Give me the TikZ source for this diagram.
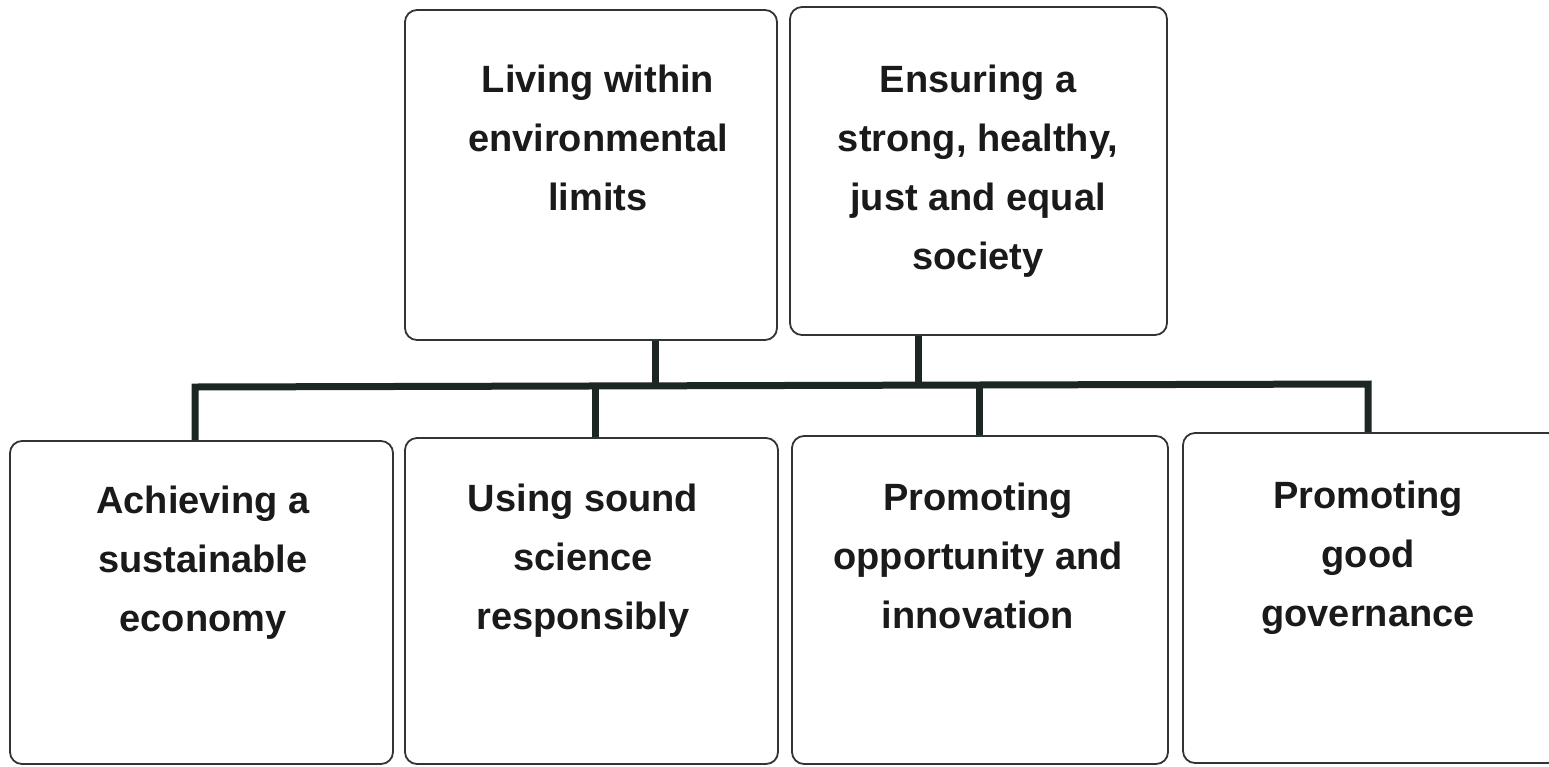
\documentclass[tikz,border=0pt]{standalone}
\usepackage{fontspec}
\setmainfont{Liberation Sans}
\usetikzlibrary{calc}
\definecolor{lineclr}{HTML}{1C2622}
\definecolor{edgeclr}{HTML}{333333}
\definecolor{textclr}{HTML}{1A1A1A}
\begin{document}
\begin{tikzpicture}[x=1pt,y=-1pt,
  box/.style={draw=edgeclr, line width=1.8pt, rounded corners=12pt, inner sep=0pt},
  txt/.style={anchor=north, align=center, inner sep=0pt, text=textclr,
    font=\fontsize{38}{59}\selectfont\bfseries},
  conn/.style={draw=lineclr, line width=7pt, line join=miter}]
\useasboundingbox (0,0) rectangle (1549,766);
\clip (0,0) rectangle (1549,766);
% boxes
\node[box, minimum width=372pt, minimum height=330pt] (b1) at (591,175) {};
\node[box, minimum width=377pt, minimum height=328pt] (b2) at (978.5,171) {};
\node[box, minimum width=383pt, minimum height=323pt] (b3) at (201.5,602.5) {};
\node[box, minimum width=373pt, minimum height=326pt] (b4) at (591.5,601) {};
\node[box, minimum width=376pt, minimum height=328pt] (b5) at (980,600) {};
\node[box, minimum width=377pt, minimum height=330pt] (b6) at (1371.5,598) {};
% texts
\node[txt] (t1) at (598,65) {Living within\\environmental\\limits};
\node[txt] (t2) at (978,65) {Ensuring a\\strong, healthy,\\just and equal\\society};
\node[txt] (t3) at (203,486) {Achieving a\\sustainable\\economy};
\node[txt] (t4) at (583,484) {Using sound\\science\\responsibly};
\node[txt] (t5) at (978,483) {Promoting\\opportunity and\\innovation};
\node[txt] (t6) at (1368,481) {Promoting\\good\\governance};
% junction coordinates
\coordinate (j1) at (655,386);
\coordinate (j2) at (918,385);
\coordinate (d3) at (195,387);
\coordinate (d4) at (595,386);
\coordinate (d5) at (979,385);
\coordinate (d6) at (1368,384);
% connectors
\draw[conn] (b1.south -| j1) -- (j1);
\draw[conn] (b2.south -| j2) -- (j2);
\draw[conn] (b3.north -| d3) -- (d3) -- (d6) -- (b6.north -| d6);
\draw[conn] (d4) -- (b4.north -| d4);
\draw[conn] (d5) -- (b5.north -| d5);
\end{tikzpicture}
\end{document}
